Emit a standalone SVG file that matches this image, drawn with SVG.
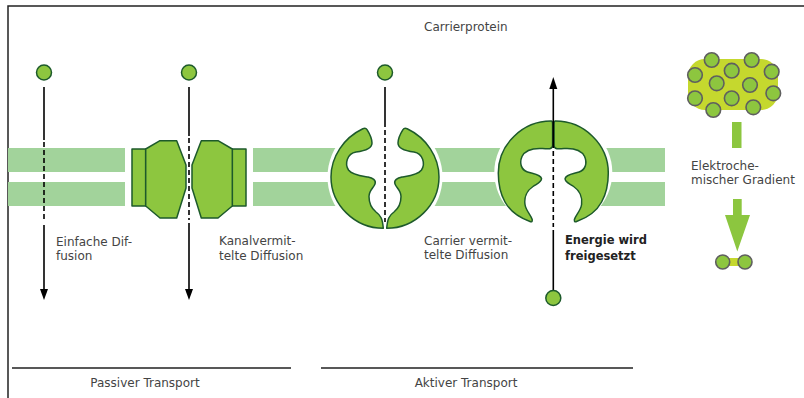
<svg xmlns="http://www.w3.org/2000/svg" xmlns:xlink="http://www.w3.org/1999/xlink" width="804" height="398" viewBox="0 0 804 398">
  <style>
    .lbl { font-family: "DejaVu Sans", "Liberation Sans", sans-serif; font-size: 12px; fill: #444; }
    .bold { font-family: "DejaVu Sans", "Liberation Sans", sans-serif; font-size: 11.5px; font-weight: bold; fill: #222; }
    .frame { stroke: #222; stroke-width: 1.5; fill: none; }
    .membrane { fill: #a2d39b; }
    .protein { fill: #8dc63f; stroke: #1d5a2b; stroke-width: 1.5; stroke-linejoin: round; }
    .halo { fill: #fff; }
    .solid { stroke: #000; stroke-width: 1.6; fill: none; }
    .dashed { stroke: #000; stroke-width: 1.6; fill: none; stroke-dasharray: 5 3; }
    .mol { fill: #8dc63f; stroke: #1d5a2b; stroke-width: 1.5; }
    .ion { fill: #8dc63f; stroke: #5f5f5f; stroke-width: 1.6; }
    .cloud { fill: #c5d82e; }
    .grad { fill: #8cc63f; }
    .head { fill: #000; }
  </style>
  <defs>
    <!-- left half of the passive carrier; the right half is its mirror image -->
    <path id="carrierHalfA" d="M 383.3 228.3 C 355 228.3 331 205 331 177 C 331 157 343.5 138 362.8 128.8 Q 365.6 127.4 367.2 129.8 C 369.8 134 372 139 372 143 C 372 148.5 364 151 356 152 C 347 153.5 344.5 164 348.5 170 C 352 175 362 176 368 177 C 372.5 178 376.5 180 375 184 C 373.5 188 369 190.5 369 196.5 C 369 203 371 208 376 212 C 381 215.5 382.5 219 383.3 228.3 Z"/>
    <!-- left half of the active carrier -->
    <path id="carrierHalfB" d="M 530 221.5 C 520 218 511 213 505 202 C 500.5 194 498.3 183 498.3 173 C 498.3 144.3 522.9 121 551.2 121.1 Q 552.6 121.2 552.6 124 L 552.6 145.5 C 552.6 149.5 548 149 542 148.5 C 532 148 525 150.5 522 156.5 C 519 163.5 521.5 170 527.5 172 C 533.5 174 540.5 174.5 541.5 178.5 C 542 182 537.5 183.5 533 186.5 C 527 190.5 524 197.5 525 204.5 C 526 211 531 215 532.2 219.5 Q 532.5 222.8 530 221.5 Z"/>
    <!-- channel half: outer bar plus faceted body -->
    <g id="channelHalf">
      <rect class="protein" x="132" y="149" width="13.7" height="57"/>
      <path class="protein" d="M 145.7 149 L 160 140.7 L 176.7 140.7 L 186 165 L 186 188 L 176.7 218 L 160 218 L 145.7 206 Z"/>
    </g>
  </defs>

  <!-- outer frame -->
  <path class="frame" d="M 8 398 L 8 6 L 804 6"/>

  <!-- lipid bilayer -->
  <g id="membrane">
    <rect class="membrane" x="8" y="148" width="117" height="24"/>
    <rect class="membrane" x="8" y="182" width="117" height="24"/>
    <rect class="membrane" x="253" y="148" width="412" height="24"/>
    <rect class="membrane" x="253" y="182" width="412" height="24"/>
  </g>

  <!-- channel protein -->
  <g id="channel">
    <use xlink:href="#channelHalf"/>
    <use xlink:href="#channelHalf" transform="translate(378,0) scale(-1,1)"/>
  </g>

  <!-- passive carrier protein -->
  <g id="carrier-passive">
    <circle class="halo" cx="385" cy="177" r="57.5"/>
    <use class="protein" xlink:href="#carrierHalfA"/>
    <use class="protein" xlink:href="#carrierHalfA" transform="translate(770,0) scale(-1,1)"/>
  </g>

  <!-- active carrier protein -->
  <g id="carrier-active">
    <ellipse class="halo" cx="553.3" cy="172.5" rx="59" ry="56"/>
    <use class="protein" xlink:href="#carrierHalfB"/>
    <use class="protein" xlink:href="#carrierHalfB" transform="translate(1106.6,0) scale(-1,1)"/>
  </g>

  <!-- transport paths -->
  <g id="connectors">
    <path class="solid" d="M 44 87 V 140"/>
    <path class="dashed" d="M 44 142 V 222"/>
    <path class="solid" d="M 44 225 V 290"/>
    <path class="head" d="M 40 289 L 48 289 L 44 300 Z"/>

    <path class="solid" d="M 189 87 V 136"/>
    <path class="dashed" d="M 189 138 V 220"/>
    <path class="solid" d="M 189 223 V 290"/>
    <path class="head" d="M 185 289 L 193 289 L 189 300 Z"/>

    <path class="solid" d="M 385 87 V 127"/>
    <path class="dashed" d="M 385 130 V 222"/>

    <path class="solid" d="M 553.3 88 V 148"/>
    <path class="dashed" d="M 553.3 151 V 227"/>
    <path class="solid" d="M 553.3 230 V 290"/>
    <path class="head" d="M 549.3 89 L 557.3 89 L 553.3 77 Z"/>
  </g>

  <!-- transported molecules -->
  <g id="molecules">
    <circle class="mol" cx="44" cy="72.5" r="7.5"/>
    <circle class="mol" cx="189" cy="72.5" r="7.5"/>
    <circle class="mol" cx="385" cy="72.5" r="7.5"/>
    <circle class="mol" cx="553.3" cy="298" r="7.5"/>
  </g>

  <!-- electrochemical gradient -->
  <g id="gradient">
    <rect class="cloud" x="688" y="59" width="90" height="51" rx="17"/>
    <circle class="ion" cx="711.7" cy="60" r="7.3"/>
    <circle class="ion" cx="751.7" cy="60" r="7.3"/>
    <circle class="ion" cx="695" cy="75" r="7.3"/>
    <circle class="ion" cx="731.7" cy="70.7" r="7.3"/>
    <circle class="ion" cx="771.7" cy="71.7" r="7.3"/>
    <circle class="ion" cx="716.7" cy="83.3" r="7.3"/>
    <circle class="ion" cx="750" cy="85" r="7.3"/>
    <circle class="ion" cx="695" cy="98.3" r="7.3"/>
    <circle class="ion" cx="731.7" cy="98.3" r="7.3"/>
    <circle class="ion" cx="773.3" cy="93.3" r="7.3"/>
    <circle class="ion" cx="713.3" cy="110" r="7.3"/>
    <circle class="ion" cx="753.3" cy="107.3" r="7.3"/>
    <rect class="grad" x="732" y="122" width="9.5" height="26"/>
    <path class="grad" d="M 733 199 H 741.7 V 215 H 750 L 737.3 251.5 L 725 215 H 733 Z"/>
    <rect class="cloud" x="723" y="258" width="22" height="8"/>
    <circle class="ion" cx="722.7" cy="262" r="7"/>
    <circle class="ion" cx="745" cy="262" r="7"/>
  </g>

  <!-- labels -->
  <g id="labels">
    <text class="lbl" x="424" y="31">Carrierprotein</text>
    <text class="lbl" x="56" y="246">Einfache Dif-</text>
    <text class="lbl" x="56" y="260">fusion</text>
    <text class="lbl" x="219" y="245">Kanalvermit-</text>
    <text class="lbl" x="219" y="259.5">telte Diffusion</text>
    <text class="lbl" x="424" y="244.5">Carrier vermit-</text>
    <text class="lbl" x="424" y="259">telte Diffusion</text>
    <text class="bold" x="565" y="243.5">Energie wird</text>
    <text class="bold" x="565" y="260">freigesetzt</text>
    <text class="lbl" x="691" y="170">Elektroche-</text>
    <text class="lbl" x="691" y="184">mischer Gradient</text>
  </g>

  <!-- transport categories -->
  <g id="categories">
    <path class="solid" style="stroke:#222;stroke-width:1.3" d="M 12 368 H 291 M 321 368 H 633"/>
    <text class="lbl" x="145" y="387" text-anchor="middle">Passiver Transport</text>
    <text class="lbl" x="466" y="387" text-anchor="middle">Aktiver Transport</text>
  </g>
</svg>
